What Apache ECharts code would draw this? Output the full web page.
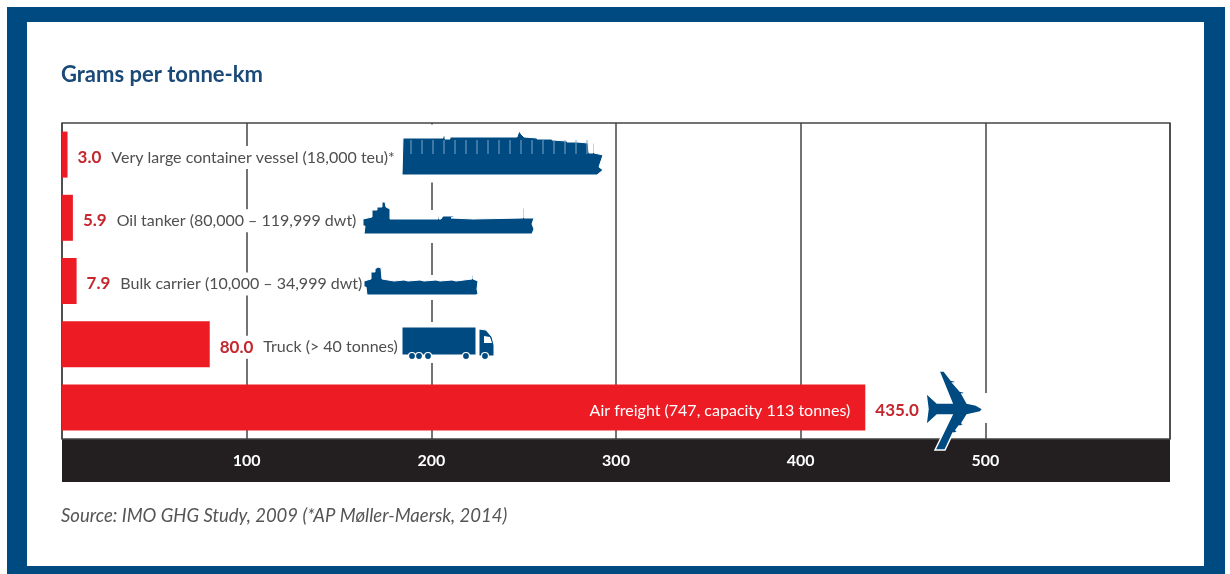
<!DOCTYPE html>
<html>
<head>
<meta charset="utf-8">
<style>html,body{margin:0;padding:0;background:#fff}#chart{width:1230px;height:574px}</style>
<script src="https://cdn.jsdelivr.net/npm/echarts@6/dist/echarts.min.js"></script>
</head>
<body>
<div id="chart"></div>
<script>
// Freight CO2 intensity by transport mode
const titleText = 'Grams per tonne-km';
const sourceText = 'Source: IMO GHG Study, 2009 (*AP Møller-Maersk, 2014)';
const categories = [
  'Very large container vessel (18,000 teu)*',
  'Oil tanker (80,000 – 119,999 dwt)',
  'Bulk carrier (10,000 – 34,999 dwt)',
  'Truck (> 40 tonnes)',
  'Air freight (747, capacity 113 tonnes)'
];
const values = [3.0, 5.9, 7.9, 80.0, 435.0];
const airIndex = 4;

const BLUE = '#004a82', RED = '#ed1c24', DARK = '#231f20', VALUE_RED = '#c4272e', GREY = '#4f4f4f';
const FONT = 'Lato,"Open Sans",sans-serif';

// Vehicle silhouettes as x,y outlines, each in its own local coordinates
const containerShip = '1,7 41,7 41,5 43,5 43,8 48,8 48,6 115,6 117,0 120,4 122,6 135,7 135,8 150,8 150,9 165,10 165,11 175,11 186,12 187,22 191,22 191,12 192,12 192,22 201,24 197,36 201,39 195,44 0,44';
const tanker = '0,17 9,15 9,8 14,8 14,5 19,5 19,0 22,0 23,5 27,7 27,17 75,17 75,14 76,14 76,17 78,17 80,14 92,14 88,16 110,17 160,16 160,6 161,6 161,16 171,16 169,22 171,27 169,32 1,32 2,24 0,24';
const bulker = '0,14 7,12 7,5 11,5 11,2 14,0 17,1 18,12 30,14 40,13 44,14 56,13 60,14 72,13 76,14 88,13 92,14 108,12 108,8 109,8 109,12 114,14 113,22 114,27 112,28 3,28 2,20 0,20';
const trailer = '0,0 74,0 74,28 0,28';
const cab = '77,2 84,3 90,10 92,18 92,29 77,29';
const cabWindow = '82,9 88,10 90,16 82,16';
const plane = '57,39 54,42 41,45 36,53 38,54 35,56 33,56 30,60 32,61 29,63 27,63 19,80 9,80 26,45 11,45 0,55 2,39 0,23 11,33 26,33 13,1 18,1 25,10 29,11 29,13 27,13 34,21 38,22 38,24 36,24 41,33 50,35';

const toPoints = s => s.split(' ').map(p => p.split(',').map(Number));

function silhouette(outline, x, y, lineWidth) {
  return { type: 'polygon', x, y, z: 60, shape: { points: toPoints(outline) },
    style: { fill: BLUE, stroke: '#fff', lineWidth: lineWidth || 1 } };
}
function mask(x, y, width, height) {
  return { type: 'rect', z: 5, shape: { x, y, width, height }, style: { fill: '#fff' } };
}
function wheel(cx) {
  return { type: 'circle', x: 402, y: 327, z: 61, shape: { cx, cy: 29, r: 3.5 },
    style: { fill: BLUE, stroke: '#fff', lineWidth: 1.2 } };
}

// Thin light lines separating the container stacks
const stackLines = [];
for (let sx = 9; sx < 186; sx += 11) {
  stackLines.push({ type: 'line', x: 402, y: 131, z: 61,
    shape: { x1: sx, y1: 9, x2: sx, y2: 23 }, style: { stroke: '#7ea6c8', lineWidth: 1 } });
}

const chart = echarts.init(document.getElementById('chart'));
chart.setOption({
  animation: false,
  backgroundColor: '#fff',
  title: [
    { text: titleText, left: 56, top: 59,
      textStyle: { color: '#1b4a78', fontFamily: FONT, fontWeight: 700, fontSize: 22 } },
    { text: sourceText, left: 56, top: 502,
      textStyle: { color: '#555', fontFamily: FONT, fontStyle: 'italic', fontWeight: 400, fontSize: 18.5 } }
  ],
  grid: { left: 62, right: 60, top: 123, bottom: 135, show: true,
    borderColor: '#444', borderWidth: 1.5, backgroundColor: 'transparent' },
  xAxis: {
    type: 'value', min: 0, max: 600, interval: 100, z: 3,
    axisLine: { show: false }, axisTick: { show: false },
    splitLine: { show: true, lineStyle: { color: '#444', width: 1.5 } },
    axisLabel: { color: '#fff', fontFamily: FONT, fontSize: 16, fontWeight: 700, margin: 14,
      showMinLabel: false, showMaxLabel: false }
  },
  yAxis: { type: 'category', data: categories, inverse: true, show: false,
    splitLine: { show: false } },
  series: [
    {
      type: 'bar', data: values, barWidth: 46, z: 6,
      itemStyle: { color: RED },
      label: {
        show: true, position: 'right', distance: 7, offset: [0, 3],
        formatter: p => '{v|' + p.value.toFixed(1) + '}' +
          (p.dataIndex === airIndex ? '' : '{n|' + p.name + '}'),
        backgroundColor: '#fff', padding: [3, 3],
        rich: {
          v: { color: VALUE_RED, fontFamily: FONT, fontWeight: 700, fontSize: 17 },
          n: { color: GREY, fontFamily: FONT, fontSize: 16, padding: [0, 0, 0, 10] }
        }
      }
    },
    {
      // Air freight names its mode inside the bar, in white
      type: 'bar', barGap: '-100%', barWidth: 46, z: 7, silent: true,
      data: values.map((v, i) => (i === airIndex ? v : null)),
      itemStyle: { color: 'transparent' },
      label: {
        show: true, position: 'insideRight', distance: 15, offset: [0, 3],
        formatter: p => categories[p.dataIndex],
        color: '#fff', fontFamily: FONT, fontSize: 16
      }
    }
  ],
  graphic: { elements: [
    // Blue page border
    { type: 'rect', z: -10, shape: { x: 7, y: 7, width: 1218, height: 567 }, style: { fill: BLUE } },
    { type: 'rect', z: -9, shape: { x: 27, y: 22, width: 1177, height: 544 }, style: { fill: '#fff' } },
    // Dark band carrying the scale
    { type: 'rect', z: -1, shape: { x: 62, y: 439, width: 1108, height: 43 }, style: { fill: DARK } },
    // Clear space behind the vehicles
    mask(396, 124.5, 214, 58), mask(358, 210, 182, 33), mask(360, 275, 124, 25),
    mask(398, 322, 100, 41), mask(975, 393, 15, 30),
    silhouette(containerShip, 402, 131),
    ...stackLines,
    silhouette(tanker, 363, 202),
    silhouette(bulker, 364, 267),
    silhouette(trailer, 402, 327),
    silhouette(cab, 402, 327),
    { type: 'polygon', x: 402, y: 327, z: 61, shape: { points: toPoints(cabWindow) }, style: { fill: '#fff' } },
    wheel(10), wheel(17), wheel(26), wheel(64), wheel(83),
    silhouette(plane, 926, 370, 1.5)
  ] }
});
</script>
</body>
</html>
